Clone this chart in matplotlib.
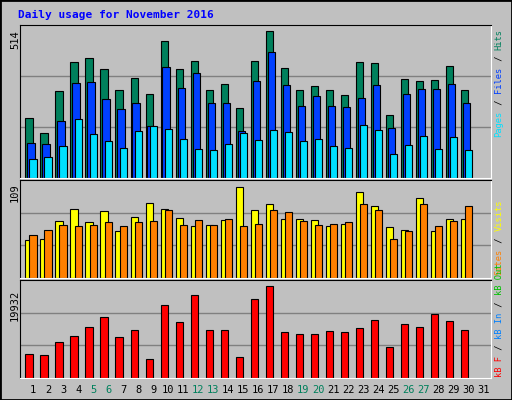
import matplotlib
matplotlib.use("Agg")
import matplotlib.pyplot as plt
import numpy as np

days = list(range(1, 31))
hits = [206,155,299,399,412,375,303,344,289,471,375,402,303,323,241,402,505,378,303,316,303,286,399,395,217,340,333,337,385,303]
files = [121,118,196,327,330,272,238,258,179,381,309,361,258,258,162,333,433,320,248,282,248,244,275,320,172,289,306,306,323,258]
pages = [66,73,111,203,152,128,104,162,179,169,135,100,97,118,155,131,166,159,128,135,111,104,183,166,83,114,145,100,142,97]
visits = [44,46,67,81,65,78,55,71,88,81,70,61,62,68,106,79,86,69,69,68,61,63,100,84,59,56,93,55,69,69]
sites = [50,56,62,61,62,65,61,65,67,79,62,68,62,69,61,63,79,77,67,62,63,65,86,79,46,55,87,61,67,84]
kbytes = [4949,4737,7494,8767,10676,12797,8555,10040,3889,15342,11736,17463,10040,10040,4313,16615,19372,9615,9191,9191,9827,9615,10464,12160,6434,11312,10676,13433,11948,10040]
max_hits, max_visits, max_kb = 514, 109, 19932
weekends = [5, 6, 12, 13, 19, 20, 26, 27]

W, H = 512, 400
fig = plt.figure(figsize=(W/100, H/100), dpi=100, facecolor='#C0C0C0')
mono = 'DejaVu Sans Mono'

def ax_at(x0, y0, x1, y1):
    ax = fig.add_axes([x0/W, 1-y1/H, (x1-x0)/W, (y1-y0)/H])
    ax.set_facecolor('#C0C0C0')
    ax.set_xlim(0.13, 31.5)
    ax.set_xticks([]); ax.set_yticks([])
    for s in ax.spines.values():
        s.set_color('black'); s.set_linewidth(0.8)
    ax.spines['bottom'].set_color('white'); ax.spines['right'].set_color('white')
    return ax

d = np.array(days)
bw = 0.49
kw = dict(width=bw, align='edge', edgecolor='black', linewidth=0.8)

ax1 = ax_at(20, 25, 491, 178)
ax1.set_ylim(0, max_hits*1.02)
for f in (1/3, 2/3):
    ax1.axhline(max_hits*1.02*f, color='#808080', lw=1, zorder=0)
ax1.bar(d-0.51, hits, color='#00805C', **kw)
ax1.bar(d-0.38, files, color='#0040FF', **kw)
ax1.bar(d-0.24, pages, color='#00E0FF', **kw)

ax2 = ax_at(20, 180, 491, 278)
ax2.set_ylim(0, max_visits*1.05)
for f in (1/3, 2/3):
    ax2.axhline(max_visits*1.05*f, color='#808080', lw=1, zorder=0)
ax2.bar(d-0.51, visits, color='#FFFF00', **kw)
ax2.bar(d-0.24, sites, color='#FF8000', **kw)

ax3 = ax_at(20, 280, 491, 378)
ax3.set_ylim(0, max_kb*1.03)
for f in (1/3, 2/3):
    ax3.axhline(max_kb*1.03*f, color='#808080', lw=1, zorder=0)
ax3.bar(d-0.51, kbytes, color='#FF0000', **kw)

ax3.set_xticks(list(range(1, 32)))
ax3.set_xticklabels([str(i) for i in range(1, 32)], fontsize=7.5, family=mono)
ax3.tick_params(axis='x', length=0, pad=5)
for lab, i in zip(ax3.get_xticklabels(), range(1, 32)):
    lab.set_color('#00805C' if i in weekends else 'black')

fig.text(18/W, 1-15/H, 'Daily usage for November 2016', color='#0000FF',
         fontsize=8, family=mono, fontweight='bold', va='center')
for y, t in ((40, str(max_hits)), (193, str(max_visits)), (305, str(max_kb))):
    fig.text(15/W, 1-y/H, t, rotation=90, fontsize=7.5, family=mono, ha='center', va='center')

def side(ybottom, parts):
    y = ybottom
    for t, c in parts:
        fig.text(499/W, 1-y/H, t, rotation=90, color=c, fontsize=6.3, family=mono,
                 ha='center', va='bottom')
        y -= 5.45*len(t)

side(137, [('Pages', '#00E0FF'), (' / ', 'black'), ('Files', '#0040FF'), (' / ', 'black'), ('Hits', '#00805C')])
side(275, [('Sites', '#FF8000'), (' / ', 'black'), ('Visits', '#FFFF00')])
side(377, [('kB F', '#FF0000'), (' / ', 'black'), ('kB In', '#0080FF'), (' / ', 'black'), ('kB Out', '#00C000')])

border = fig.add_axes([0, 0, 1, 1], facecolor='none', zorder=-1)
border.set_xticks([]); border.set_yticks([])
for s in border.spines.values():
    s.set_linewidth(2); s.set_color('black')
fig.savefig('out.png', dpi=100, facecolor=fig.get_facecolor())
